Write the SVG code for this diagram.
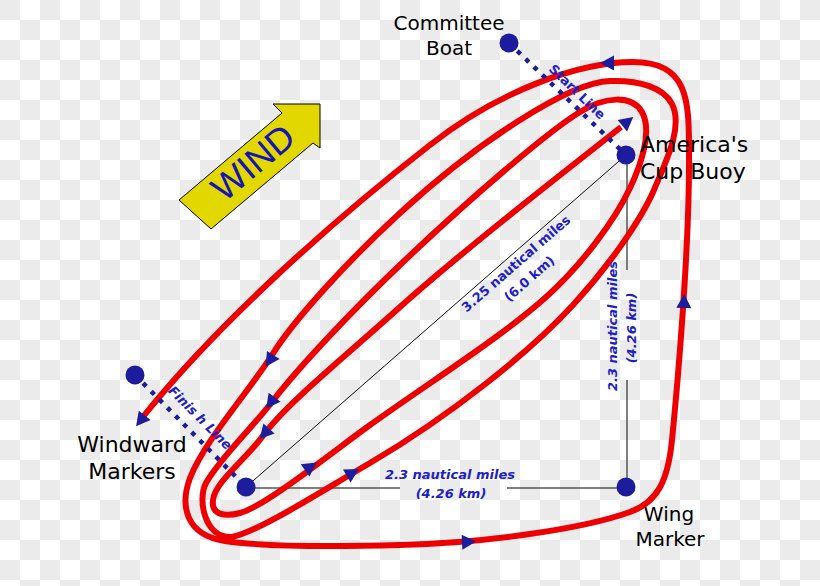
<svg xmlns="http://www.w3.org/2000/svg" xmlns:xlink="http://www.w3.org/1999/xlink" width="820" height="586" viewBox="0 0 820 586">
<defs>
<pattern id="checker" x="0" y="0" width="40" height="40" patternUnits="userSpaceOnUse">
<rect x="0" y="0" width="40" height="40" fill="#ffffff"/>
<rect x="0" y="0" width="20" height="20" fill="#ebebeb"/>
<rect x="20" y="20" width="20" height="20" fill="#ebebeb"/>
</pattern>
<path id="tri" d="M8,0 L-6,-7.5 L-6,7.5 Z"/>
<style>
.lbl{font-family:"DejaVu Sans","Liberation Sans",sans-serif;fill:#000;}
.dist{font-family:"DejaVu Sans","Liberation Sans",sans-serif;font-weight:bold;font-size:13px;fill:#2020c8;text-anchor:middle;}
.ital{font-style:italic;}
.mark{fill:#1c1c9c;}
.course{fill:none;stroke:#ee0000;stroke-width:6;stroke-linejoin:round;}
.dotted{fill:none;stroke:#1c1c9c;stroke-width:4.5;stroke-dasharray:4.5 7;}
.arrow{fill:#1c1c9c;}
</style>
</defs>
<rect x="0" y="0" width="820" height="586" fill="url(#checker)"/>

<g id="wind-arrow">
<polygon points="179,200 211,229 313,143 320,148 320,104 273,104 282,113" fill="#e2d800" stroke="#000" stroke-width="1"/>
<text transform="translate(261,172) rotate(-40)" font-family="Liberation Sans, Arial, sans-serif" font-size="36" fill="#1515b5" text-anchor="middle">WIND</text>
</g>

<g id="connectors">
<line x1="246" y1="487" x2="626" y2="155" stroke="#111" stroke-width="1"/>
<line x1="246" y1="488" x2="400" y2="488" stroke="#555" stroke-width="1.5"/>
<line x1="507" y1="488" x2="626" y2="488" stroke="#555" stroke-width="1.5"/>
<line x1="627" y1="155" x2="627" y2="270" stroke="#555" stroke-width="1.5"/>
<line x1="627" y1="380" x2="627" y2="487" stroke="#555" stroke-width="1.5"/>
<path id="course" class="course" d="M621,127 C585,156 470,244 400,307 C340,361 285,405 262,437 C245,460 215,482 213,500 C211,515 225,517 240,513 C266,506 335,450 370,425 C430,382 500,338 545,298 C582,265 615,220 630,188 C640,167 653,132 642,112 C632,95 605,96 580,112 C550,130 470,198 400,265 C360,303 300,365 272,402 C252,428 220,458 206,483 C197,500 205,539 232,537 C260,531 320,492 370,463 C450,416 530,352 573,305 C607,268 640,222 654,190 C664,165 684,128 672,104 C664,88 640,80 610,81 C570,82 480,140 400,213 C350,259 295,318 272,355 C250,390 205,440 190,478 C180,505 185,535 225,541 C260,546 330,547 400,545 C480,543 580,530 630,512 C658,502 668,480 672,440 C676,400 690,250 689,150 C689,100 688,62 633,62 C580,62 500,90 430,145 C340,215 220,320 142,418"/>
<line id="start-line" class="dotted" x1="509" y1="43" x2="626" y2="155"/>
<line id="finish-line" class="dotted" x1="135" y1="375" x2="246" y2="487"/>
<g class="arrow">
<use xlink:href="#tri" transform="translate(627,122) rotate(-39)"/>
<use xlink:href="#tri" transform="translate(608,63) rotate(180)"/>
<use xlink:href="#tri" transform="translate(684,302) rotate(-88)"/>
<use xlink:href="#tri" transform="translate(468,542) rotate(-3)"/>
<use xlink:href="#tri" transform="translate(270,360) rotate(123)"/>
<use xlink:href="#tri" transform="translate(271,402) rotate(127)"/>
<use xlink:href="#tri" transform="translate(265,433) rotate(132)"/>
<use xlink:href="#tri" transform="translate(310,467) rotate(-35)"/>
<use xlink:href="#tri" transform="translate(352,473) rotate(-30)"/>
<use xlink:href="#tri" transform="translate(141,420) rotate(128)"/>
</g>
<text class="dist" transform="translate(574,95) rotate(44)">Start Line</text>
<text class="dist ital" transform="translate(197,421) rotate(45)">Finis<tspan dx="4">h Line</tspan></text>
<g transform="translate(519,267) rotate(-41.1)">
<text class="dist" x="0" y="0">3.25 nautical miles</text>
<text class="dist" x="0" y="20">(6.0 km)</text>
</g>
<text class="dist ital" x="450" y="479">2.3 nautical miles</text>
<text class="dist ital" x="451" y="498">(4.26 km)</text>
<text class="dist ital" transform="translate(617,326) rotate(-90)">2.3 nautical miles</text>
<text class="dist ital" transform="translate(636,328) rotate(-90)">(4.26 km)</text>
</g>

<g id="committee-boat">
<circle class="mark" cx="509" cy="43" r="9.5"/>
<text class="lbl" x="449" y="30" font-size="20" text-anchor="middle">Committee</text>
<text class="lbl" x="449" y="55" font-size="20" text-anchor="middle">Boat</text>
</g>
<g id="cup-buoy">
<circle class="mark" cx="626" cy="155" r="9.5"/>
<text class="lbl" x="640" y="152" font-size="22">America's</text>
<text class="lbl" x="640" y="179" font-size="22">Cup Buoy</text>
</g>
<g id="wing-marker">
<circle class="mark" cx="626" cy="487" r="9.5"/>
<text class="lbl" x="669" y="521" font-size="20" text-anchor="middle">Wing</text>
<text class="lbl" x="670" y="546" font-size="20" text-anchor="middle">Marker</text>
</g>
<g id="windward-marker">
<circle class="mark" cx="246" cy="487" r="9.5"/>
<text class="lbl" x="132" y="452" font-size="22" text-anchor="middle">Windward</text>
<text class="lbl" x="132" y="479" font-size="22" text-anchor="middle">Markers</text>
</g>
<g id="finish-mark">
<circle class="mark" cx="135" cy="375" r="9.5"/>
</g>
</svg>
